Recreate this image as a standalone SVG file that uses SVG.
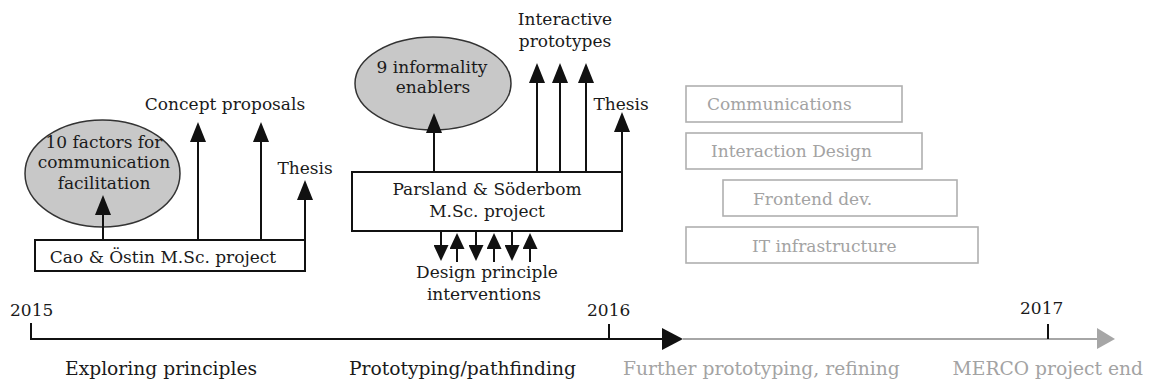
<svg xmlns="http://www.w3.org/2000/svg" width="1149" height="387" viewBox="0 0 1149 387">
<style>
text{font-family:"DejaVu Serif","Liberation Serif",serif;font-size:17px;fill:#1a1a1a}
.g{fill:#a3a3a3}
.m{text-anchor:middle}
.b{font-size:18.7px}
.box{fill:#fff;stroke:#111;stroke-width:2}
.gbox{fill:#fff;stroke:#b0b0b0;stroke-width:1.6}
.ell{fill:#c8c8c8;stroke:#333;stroke-width:1.5}
.ln{stroke:#111;stroke-width:2;fill:none}
.arr{marker-end:url(#ah)}
.sarr{marker-end:url(#sah)}
</style>
<defs>
<marker id="ah" viewBox="0 0 20 16" refX="10" refY="8" markerWidth="20" markerHeight="16" markerUnits="userSpaceOnUse" orient="auto"><path d="M0,0 L20,8 L0,16 z" fill="#111"/></marker>
<marker id="sah" viewBox="0 0 16 15" refX="8" refY="7.5" markerWidth="16" markerHeight="15" markerUnits="userSpaceOnUse" orient="auto"><path d="M0,0 L16,7.5 L0,15 z" fill="#111"/></marker>
</defs>
<rect width="1149" height="387" fill="#fff"/>

<g id="timeline">
<path class="ln" d="M31,323 L31,339 L665,339"/>
<line class="ln" x1="609" y1="324" x2="609" y2="339"/>
<polygon points="662,328 683,339 662,350" fill="#111"/>
<line x1="683" y1="339" x2="1100" y2="339" stroke="#a6a6a6" stroke-width="2"/>
<line class="ln" x1="1048" y1="324" x2="1048" y2="339"/>
<polygon points="1097,328 1115,339 1097,349" fill="#a6a6a6"/>
<text x="10" y="316">2015</text>
<text x="587" y="316">2016</text>
<text x="1020" y="314">2017</text>
<text class="b" x="65" y="375">Exploring principles</text>
<text class="b" x="349" y="375">Prototyping/pathfinding</text>
<text class="g b" x="623" y="375">Further prototyping, refining</text>
<text class="g b" x="1143" y="375" text-anchor="end">MERCO project end</text>
</g>

<g id="factors">
<ellipse class="ell" cx="102.5" cy="173.5" rx="77.5" ry="53.5"/>
<text class="m" x="104" y="148">10 factors for</text>
<text class="m" x="104" y="168">communication</text>
<text class="m" x="104" y="189">facilitation</text>
</g>
<g id="concept"><text class="m" x="225" y="110">Concept proposals</text></g>
<g id="thesis1"><text class="m" x="305" y="174">Thesis</text></g>
<g id="cao">
<rect class="box" x="35" y="240" width="270" height="31"/>
<text class="m" x="163" y="263">Cao &amp; Östin M.Sc. project</text>
</g>

<g id="enablers">
<ellipse class="ell" cx="433" cy="83.5" rx="78" ry="46.5"/>
<text class="m" x="432" y="73">9 informality</text>
<text class="m" x="433" y="93">enablers</text>
</g>
<g id="prototypes">
<text class="m" x="565" y="25">Interactive</text>
<text class="m" x="565" y="47">prototypes</text>
</g>
<g id="thesis2"><text class="m" x="621" y="110">Thesis</text></g>
<g id="parsland">
<rect class="box" x="352" y="172" width="270" height="59"/>
<text class="m" x="487" y="195">Parsland &amp; Söderbom</text>
<text class="m" x="487" y="217">M.Sc. project</text>
</g>
<g id="interventions">
<text class="m" x="487" y="278">Design principle</text>
<text class="m" x="484" y="300">interventions</text>
</g>

<g id="communications"><rect class="gbox" x="686" y="86" width="216" height="36"/><text class="g" x="707" y="110">Communications</text></g>
<g id="interaction"><rect class="gbox" x="686" y="133" width="236" height="36"/><text class="g" x="711" y="157">Interaction Design</text></g>
<g id="frontend"><rect class="gbox" x="723" y="180" width="234" height="36"/><text class="g" x="753" y="205">Frontend dev.</text></g>
<g id="infra"><rect class="gbox" x="686" y="227" width="292" height="36"/><text class="g" x="752" y="252">IT infrastructure</text></g>

<g id="connectors">
<line class="ln arr" x1="103" y1="239" x2="103" y2="205"/>
<line class="ln arr" x1="198" y1="239" x2="198" y2="132"/>
<line class="ln arr" x1="261" y1="239" x2="261" y2="132"/>
<line class="ln arr" x1="305" y1="239" x2="305" y2="190"/>
<line class="ln arr" x1="434" y1="171" x2="434" y2="123"/>
<line class="ln arr" x1="537" y1="171" x2="537" y2="73"/>
<line class="ln arr" x1="560" y1="171" x2="560" y2="73"/>
<line class="ln arr" x1="586" y1="171" x2="586" y2="73"/>
<line class="ln arr" x1="622" y1="171" x2="622" y2="122"/>
<line class="ln sarr" x1="441" y1="232" x2="441" y2="253"/>
<line class="ln sarr" x1="457" y1="262" x2="457" y2="241"/>
<line class="ln sarr" x1="476" y1="232" x2="476" y2="253"/>
<line class="ln sarr" x1="494" y1="262" x2="494" y2="241"/>
<line class="ln sarr" x1="512" y1="232" x2="512" y2="253"/>
<line class="ln sarr" x1="530" y1="262" x2="530" y2="241"/>
</g>
</svg>
